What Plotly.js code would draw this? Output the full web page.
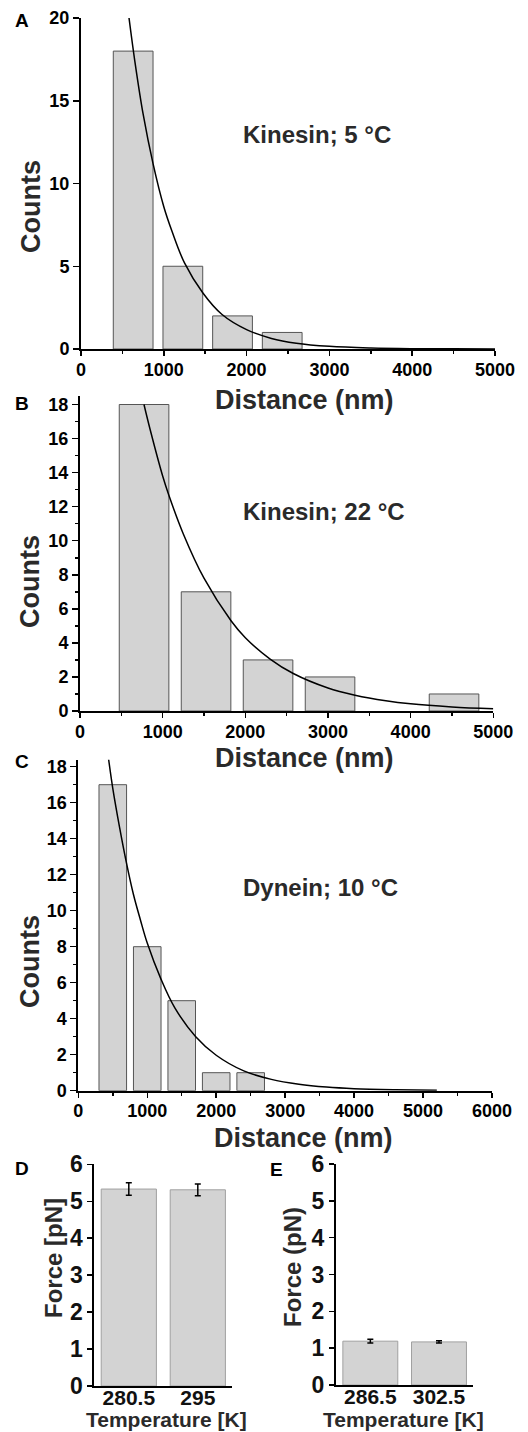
<!DOCTYPE html>
<html><head><meta charset="utf-8">
<script src="https://cdn.plot.ly/plotly-3.0.1.min.js"></script>
<style>html,body{margin:0;padding:0;background:#fff}#chart{width:528px;height:1432px}</style>
</head><body><div id="chart"></div>
<script>
// ---- Panel A: Kinesin 5 °C ----
const kinA_binCenters = [630, 1230, 1830, 2430];
const kinA_counts = [18, 5, 2, 1];
const kinA_fitX = [580, 650, 750, 870, 1000, 1100, 1250, 1470, 1700, 2000, 2300, 2600, 3000, 3500, 4000, 4500, 5000];
const kinA_fitY = [20, 17.4, 14.2, 11.2, 8.6, 7.1, 5.2, 3.4, 2.1, 1.17, 0.64, 0.35, 0.16, 0.06, 0.02, 0.008, 0.003];
// ---- Panel B: Kinesin 22 °C ----
const kinB_binCenters = [775, 1525, 2275, 3025, 4525];
const kinB_counts = [18, 7, 3, 2, 1];
const kinB_fitX = [774, 850, 1000, 1073, 1250, 1500, 1827, 2000, 2300, 2580, 3000, 3327, 3700, 4000, 4500, 5000];
const kinB_fitY = [18, 16.5, 13.8, 12.7, 10.4, 7.8, 5.3, 4.3, 3.05, 2.2, 1.35, 0.93, 0.6, 0.42, 0.24, 0.13];
// ---- Panel C: Dynein 10 °C ----
const dynC_binCenters = [500, 1000, 1500, 2000, 2500];
const dynC_counts = [17, 8, 5, 1, 1];
const dynC_fitX = [440, 500, 600, 696, 800, 900, 1000, 1199, 1400, 1703, 2000, 2400, 2800, 3200, 3600, 4000, 4600, 5200];
const dynC_fitY = [18.4, 16.8, 14.6, 12.7, 10.9, 9.5, 8.2, 6.2, 4.6, 3.0, 1.97, 1.1, 0.63, 0.36, 0.2, 0.11, 0.05, 0.02];
// ---- Panel D ----
const forceD_temps = ['280.5', '295'];
const forceD_values = [5.33, 5.31];
const forceD_errors = [0.17, 0.16];
// ---- Panel E ----
const forceE_temps = ['286.5', '302.5'];
const forceE_values = [1.19, 1.17];
const forceE_errors = [0.05, 0.03];

const W = 528, H = 1432;
const FONT = 'Arial, "Liberation Sans", sans-serif';
const px = x => x / W;
const py = y => (H - y) / H;

const barFill = '#d3d3d3';
function histBar(x, y, width, xa, ya) {
  return {type: 'bar', x: x, y: y, width: width, xaxis: xa, yaxis: ya,
    marker: {color: barFill, line: {color: '#555', width: 1}}, hoverinfo: 'x+y'};
}
function fitLine(x, y, xa, ya) {
  return {type: 'scatter', mode: 'lines', x: x, y: y, xaxis: xa, yaxis: ya,
    line: {color: '#000', width: 1.5, shape: 'spline'}, hoverinfo: 'skip'};
}
function forceBar(x, y, err, xa, ya) {
  return {type: 'bar', x: x, y: y, width: 0.8, xaxis: xa, yaxis: ya,
    marker: {color: barFill, line: {color: '#a0a0a0', width: 1}},
    error_y: {type: 'data', array: err, visible: true, color: '#000', thickness: 1.5, width: 3}};
}

const data = [
  histBar(kinA_binCenters, kinA_counts, 480, 'x', 'y'),
  fitLine(kinA_fitX, kinA_fitY, 'x', 'y'),
  histBar(kinB_binCenters, kinB_counts, 600, 'x2', 'y2'),
  fitLine(kinB_fitX, kinB_fitY, 'x2', 'y2'),
  histBar(dynC_binCenters, dynC_counts, 400, 'x3', 'y3'),
  fitLine(dynC_fitX, dynC_fitY, 'x3', 'y3'),
  forceBar(forceD_temps, forceD_values, forceD_errors, 'x4', 'y4'),
  forceBar(forceE_temps, forceE_values, forceE_errors, 'x5', 'y5')
];

function histX(d, anchor, xmax) {
  return {domain: d, anchor: anchor, range: [0, xmax], dtick: 1000, tick0: 0,
    showline: true, linecolor: '#000', linewidth: 2, ticks: 'outside', ticklen: 5, tickwidth: 1.5, tickcolor: '#000',
    minor: {dtick: 500, ticks: 'outside', ticklen: 3, tickwidth: 1.5, tickcolor: '#000'},
    ticklabelstandoff: -2,
    showgrid: false, zeroline: false, tickfont: {family: FONT, size: 18, color: '#000', weight: 'bold'}};
}
function histY(d, anchor, ymax, dt, minorDt) {
  const o = {domain: d, anchor: anchor, range: [0, ymax], dtick: dt, tick0: 0,
    showline: true, linecolor: '#000', linewidth: 2, ticks: 'outside', ticklen: 6, tickwidth: 1.5, tickcolor: '#000',
    showgrid: false, zeroline: false, tickfont: {family: FONT, size: 18, color: '#000', weight: 'bold'}};
  if (minorDt) o.minor = {dtick: minorDt, ticks: 'outside', ticklen: 3, tickwidth: 1.5, tickcolor: '#000'};
  return o;
}
function forceX(d, anchor) {
  return {domain: d, anchor: anchor, type: 'category', range: [-0.5, 1.5],
    showline: true, linecolor: '#000', linewidth: 2, ticks: '', showgrid: false, zeroline: false,
    ticklabelstandoff: -8,
    tickfont: {family: FONT, size: 21, color: '#111', weight: 'bold'}};
}
function forceY(d, anchor) {
  return {domain: d, anchor: anchor, range: [0, 6], dtick: 1, tick0: 0,
    showline: true, linecolor: '#000', linewidth: 2, ticks: 'outside', ticklen: 5, tickwidth: 1.5, tickcolor: '#000',
    showgrid: false, zeroline: false, tickfont: {family: FONT, size: 23, color: '#111', weight: 'bold'}};
}

function txt(text, x, y, size, opts) {
  return Object.assign({text: text, xref: 'paper', yref: 'paper', x: px(x), y: py(y),
    xanchor: 'center', yanchor: 'middle', showarrow: false, borderpad: 0,
    font: {family: FONT, size: size, color: '#2a2a2a', weight: 'bold'}}, opts || {});
}
function vtxt(text, x, y, size) {
  return txt(text, x, y, size, {textangle: -90});
}
const letterFont = {family: FONT, size: 19, color: '#000', weight: 'bold'};

const annotations = [
  txt('A', 22, 20, 19, {font: letterFont}),
  txt('B', 22, 404, 19, {font: letterFont}),
  txt('C', 22, 761, 19, {font: letterFont}),
  txt('D', 22, 1168, 19, {font: letterFont}),
  txt('E', 276, 1169, 19, {font: letterFont}),
  txt('Kinesin; 5 °C', 242, 134, 24, {xanchor: 'left'}),
  txt('Kinesin; 22 °C', 242, 512, 24, {xanchor: 'left'}),
  txt('Dynein; 10 °C', 242, 888, 24, {xanchor: 'left'}),
  txt('Distance (nm)', 304, 400, 27),
  txt('Distance (nm)', 304, 758, 27),
  txt('Distance (nm)', 303, 1138, 27),
  vtxt('Counts', 31, 207, 27),
  vtxt('Counts', 30, 582, 27),
  vtxt('Counts', 30, 962, 27),
  vtxt('Force [pN]', 53, 1258, 24),
  vtxt('Force (pN)', 292, 1267, 24),
  txt('Temperature [K]', 166, 1432, 21, {yanchor: 'bottom'}),
  txt('Temperature [K]', 403, 1432, 21, {yanchor: 'bottom'})
];

const layout = {
  width: W, height: H, margin: {l: 0, r: 0, t: 0, b: 0},
  paper_bgcolor: '#fff', plot_bgcolor: 'rgba(0,0,0,0)', showlegend: false,
  font: {family: FONT},
  xaxis: histX([px(81), px(495)], 'y', 5000),
  yaxis: histY([py(349), py(18)], 'x', 20, 5, null),
  xaxis2: histX([px(80), px(493.3)], 'y2', 5000),
  yaxis2: histY([py(711), py(396)], 'x2', 18.5, 2, 1),
  xaxis3: histX([px(78.3), px(492)], 'y3', 6000),
  yaxis3: histY([py(1090.7), py(759.5)], 'x3', 18.4, 2, 1),
  xaxis4: forceX([px(94.3), px(232.3)], 'y4'),
  yaxis4: forceY([py(1386), py(1164.3)], 'x4'),
  xaxis5: forceX([px(336), px(473.3)], 'y5'),
  yaxis5: forceY([py(1385), py(1164)], 'x5'),
  annotations: annotations
};

Plotly.newPlot('chart', data, layout, {displayModeBar: false, staticPlot: true});
</script></body></html>
